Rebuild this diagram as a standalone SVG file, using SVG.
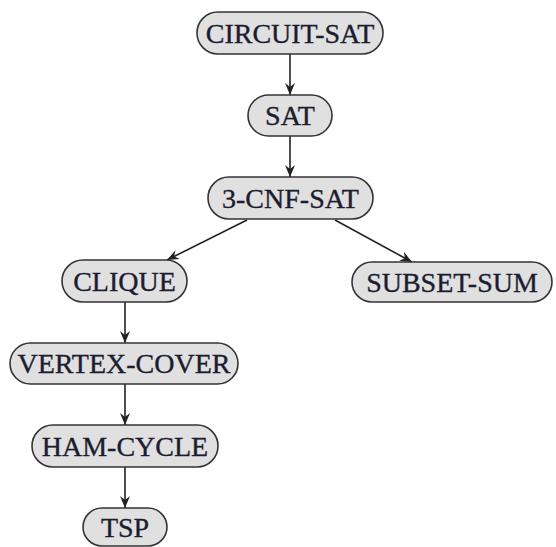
<svg xmlns="http://www.w3.org/2000/svg" width="556" height="547" viewBox="0 0 556 547">
<style>
.n rect{fill:#e0e0e0;stroke:#333;stroke-width:1.6}
.n text{font-family:"Liberation Serif","Times New Roman",serif;font-size:28px;fill:#1c1c30;stroke:#1c1c30;stroke-width:0.35;text-anchor:middle;dominant-baseline:central}
.c line{stroke:#222;stroke-width:1.6;marker-end:url(#ah)}
</style>
<defs>
<marker id="ah" viewBox="0 0 12 10" refX="12" refY="5" markerWidth="12" markerHeight="10" markerUnits="userSpaceOnUse" orient="auto">
<path d="M0,0 L12,5 L0,10 L4,5 z" fill="#222"/>
</marker>
</defs>
<rect width="556" height="547" fill="#fff"/>
<g class="c">
<line x1="290" y1="54" x2="290" y2="95"/>
<line x1="290" y1="136" x2="290" y2="177"/>
<line x1="247" y1="220" x2="167" y2="260"/>
<line x1="335" y1="220" x2="412" y2="262"/>
<line x1="125" y1="302" x2="125" y2="343"/>
<line x1="125" y1="384" x2="125" y2="425"/>
<line x1="125" y1="467" x2="125" y2="508"/>
</g>
<g id="circuit-sat" class="n"><rect x="197" y="12" width="186" height="42" rx="21"/><text x="290" y="33">CIRCUIT-SAT</text></g>
<g id="sat" class="n"><rect x="248" y="95" width="84" height="41" rx="20.5"/><text x="290" y="115.5">SAT</text></g>
<g id="cnf-sat" class="n"><rect x="208" y="177" width="165" height="42" rx="21"/><text x="290.5" y="198">3-CNF-SAT</text></g>
<g id="clique" class="n"><rect x="62" y="260" width="125" height="42" rx="21"/><text x="124.5" y="281">CLIQUE</text></g>
<g id="subset-sum" class="n"><rect x="352" y="262" width="200" height="40" rx="20"/><text x="452" y="282">SUBSET-SUM</text></g>
<g id="vertex-cover" class="n"><rect x="10" y="343" width="228" height="41" rx="20.5"/><text x="124" y="363.5">VERTEX-COVER</text></g>
<g id="ham-cycle" class="n"><rect x="32" y="425" width="186" height="42" rx="21"/><text x="125" y="446">HAM-CYCLE</text></g>
<g id="tsp" class="n"><rect x="83" y="508" width="84" height="38" rx="19"/><text x="125" y="527">TSP</text></g>
</svg>
